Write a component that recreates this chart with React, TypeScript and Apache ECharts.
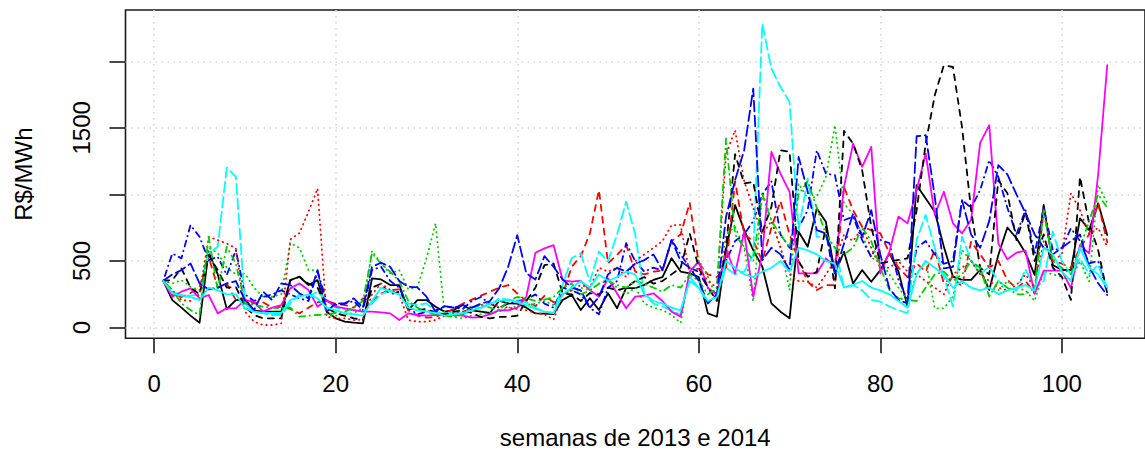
import React, { useEffect, useRef } from "react";
import * as echarts from "echarts";

// Weekly prices (R$/MWh), weeks 1..105 of 2013 and 2014
const xTicks = [0, 20, 40, 60, 80, 100];
const yTicks = [0, 500, 1000, 1500, 2000];
const yLabelValues = [0, 500, 1500];

const serie01 = [
  352, 207, 150, 90, 37, 570, 400, 140, 207, 212,
  130, 120, 120, 120, 357, 382, 320, 357, 120, 70,
  45, 37, 32, 370, 362, 320, 320, 132, 207, 207,
  157, 120, 132, 170, 130, 120, 110, 202, 182, 180,
  150, 107, 105, 102, 208, 246, 133, 221, 133, 258,
  146, 296, 296, 321, 358, 380, 521, 421, 407, 380,
  107, 82, 582, 920, 732, 582, 457, 182, 120, 70,
  720, 607, 895, 795, 407, 570, 332, 432, 345, 432,
  558, 420, 158, 1070, 970, 870, 608, 383, 358, 358,
  433, 283, 546, 752, 671, 560, 396, 921, 471, 433,
  433, 821, 733, 934, 696,
];
const serie02 = [
  352, 245, 230, 260, 300, 532, 300, 330, 207, 207,
  182, 190, 150, 157, 140, 107, 150, 190, 200, 180,
  170, 150, 220, 200, 257, 282, 287, 130, 90, 75,
  80, 110, 140, 180, 210, 240, 270, 300, 320, 257,
  200, 160, 240, 190, 250, 457, 537, 707, 1032, 483,
  546, 620, 420, 400, 420, 430, 650, 700, 937, 482,
  400, 380, 450, 1100, 700, 650, 500, 750, 950, 700,
  500, 345, 282, 320, 320, 1057, 882, 757, 732, 708,
  560, 450, 380, 483, 420, 583, 333, 380, 308, 646,
  550, 450, 500, 358, 296, 350, 258, 884, 500, 480,
  450, 600, 700, 934, 640,
];
const serie03 = [
  352, 332, 357, 307, 282, 600, 560, 450, 400, 407,
  300, 230, 232, 250, 632, 600, 432, 432, 95, 90,
  100, 110, 150, 577, 482, 407, 432, 287, 307, 520,
  782, 95, 80, 70, 90, 100, 110, 120, 150, 160,
  170, 180, 200, 170, 250, 280, 300, 280, 330, 360,
  300, 250, 300, 182, 150, 132, 95, 35, 407, 507,
  382, 220, 700, 757, 600, 195, 1020, 807, 607, 282,
  1082, 970, 982, 1132, 1520, 932, 850, 700, 520, 507,
  400, 300, 207, 400, 500, 145, 145, 233, 583, 500,
  420, 300, 280, 350, 300, 280, 200, 420, 400, 380,
  360, 500, 346, 1071, 934,
];
const serie04 = [
  352, 557, 520, 770, 682, 507, 532, 395, 582, 250,
  200, 230, 250, 280, 250, 220, 200, 420, 200, 170,
  180, 200, 130, 432, 457, 350, 300, 150, 100, 120,
  130, 160, 150, 140, 200, 230, 180, 150, 180, 200,
  210, 250, 180, 150, 300, 280, 250, 150, 100, 300,
  350, 634, 500, 420, 450, 430, 657, 550, 450, 420,
  300, 250, 500, 650, 700, 800, 1000, 1100, 700, 600,
  750, 882, 1332, 1157, 1145, 807, 832, 657, 532, 659,
  634, 358, 208, 600, 650, 550, 480, 500, 959, 900,
  1032, 1257, 1132, 900, 700, 884, 550, 900, 583, 596,
  746, 650, 482, 500, 258,
];
const serie05 = [
  352, 270, 245, 240, 250, 557, 607, 1202, 1132, 182,
  120, 107, 95, 95, 182, 250, 230, 270, 200, 150,
  140, 130, 120, 180, 250, 280, 250, 180, 170, 182,
  120, 100, 120, 100, 130, 150, 170, 220, 210, 200,
  190, 150, 120, 110, 320, 521, 558, 346, 571, 496,
  700, 945, 700, 250, 180, 160, 130, 95, 382, 300,
  182, 250, 450, 400, 420, 550, 2282, 1945, 1807, 1695,
  732, 1120, 682, 682, 600, 307, 320, 280, 208, 195,
  158, 132, 108, 659, 846, 600, 382, 158, 683, 508,
  400, 458, 350, 300, 280, 438, 300, 350, 721, 500,
  400, 521, 400, 471, 300,
];
const serie06 = [
  352, 232, 270, 295, 220, 245, 107, 145, 145, 207,
  195, 120, 150, 170, 295, 332, 282, 157, 207, 157,
  145, 132, 120, 120, 115, 107, 57, 107, 95, 90,
  95, 100, 95, 90, 75, 80, 100, 132, 130, 150,
  232, 562, 595, 620, 357, 345, 352, 282, 232, 371,
  257, 146, 233, 240, 258, 200, 120, 83, 421, 496,
  300, 245, 595, 407, 720, 232, 557, 1320, 1157, 1020,
  407, 407, 407, 520, 457, 1057, 1382, 1207, 1357, 407,
  570, 834, 783, 1032, 1307, 845, 1020, 783, 708, 809,
  1387, 1520, 633, 513, 563, 578, 253, 428, 428, 428,
  296, 621, 558, 1150, 1970,
];
const serie07 = [
  352, 357, 445, 300, 250, 545, 432, 300, 307, 157,
  95, 70, 70, 70, 357, 382, 330, 300, 150, 110,
  90, 70, 60, 300, 330, 250, 270, 150, 130, 140,
  110, 100, 120, 130, 110, 80, 70, 80, 82, 90,
  200, 300, 470, 482, 257, 250, 200, 260, 250, 300,
  280, 300, 350, 380, 330, 350, 400, 450, 707, 450,
  300, 200, 600, 1302, 1082, 1095, 720, 907, 1332, 1320,
  500, 382, 420, 757, 295, 1477, 1382, 1182, 757, 483,
  496, 508, 521, 882, 1382, 1745, 1970, 1957, 1507, 882,
  450, 400, 1107, 1009, 657, 870, 500, 700, 450, 382,
  208, 1132, 782, 582, 257,
];
const serie08 = [
  352, 280, 207, 200, 250, 682, 657, 632, 595, 120,
  45, 20, 20, 32, 662, 710, 870, 1045, 82, 70,
  70, 57, 60, 250, 332, 282, 250, 57, 45, 45,
  57, 90, 110, 120, 150, 170, 180, 160, 150, 140,
  130, 110, 100, 60, 250, 280, 320, 300, 450, 420,
  450, 380, 500, 550, 600, 650, 770, 771, 400, 450,
  350, 300, 1300, 1482, 1100, 900, 700, 800, 600, 400,
  350, 350, 300, 400, 500, 700, 650, 750, 600, 450,
  450, 500, 420, 400, 350, 300, 250, 400, 450, 500,
  400, 350, 300, 280, 320, 400, 300, 650, 500, 550,
  1009, 882, 700, 750, 608,
];
const serie09 = [
  352, 282, 182, 132, 95, 682, 282, 607, 482, 182,
  170, 157, 150, 145, 150, 82, 90, 95, 100, 110,
  120, 150, 200, 560, 480, 420, 350, 200, 150, 120,
  100, 90, 80, 100, 150, 170, 150, 130, 200, 230,
  220, 200, 210, 230, 300, 330, 250, 280, 330, 350,
  320, 300, 350, 330, 300, 270, 320, 300, 400, 350,
  250, 300, 1420, 700, 600, 500, 1000, 800, 700, 600,
  1000, 1100, 900, 700, 600, 550, 600, 750, 650, 450,
  283, 220, 208, 200, 300, 400, 420, 350, 400, 500,
  450, 233, 350, 300, 250, 250, 300, 880, 500, 450,
  400, 600, 800, 1000, 900,
];
const serie10 = [
  352, 400, 432, 482, 332, 287, 300, 332, 350, 207,
  132, 270, 207, 332, 320, 257, 220, 432, 120, 182,
  182, 220, 150, 457, 487, 457, 350, 307, 302, 232,
  120, 162, 150, 170, 150, 180, 200, 295, 457, 695,
  407, 362, 537, 457, 362, 300, 280, 150, 230, 400,
  450, 420, 480, 507, 550, 432, 658, 500, 450, 350,
  182, 250, 832, 1107, 1332, 1795, 507, 600, 550, 432,
  1282, 1020, 732, 707, 407, 632, 857, 682, 882, 550,
  295, 207, 183, 1437, 1445, 982, 445, 457, 957, 700,
  600, 800, 1220, 1150, 1000, 859, 700, 600, 550, 600,
  650, 700, 458, 333, 245,
];
const serie11 = [
  352, 257, 240, 230, 207, 300, 280, 250, 250, 145,
  120, 110, 110, 110, 207, 232, 250, 220, 150, 130,
  110, 100, 90, 200, 300, 270, 250, 150, 130, 120,
  110, 90, 100, 110, 130, 150, 180, 200, 210, 190,
  170, 140, 120, 110, 250, 300, 350, 300, 400, 350,
  380, 420, 400, 250, 200, 180, 150, 130, 350, 300,
  200, 230, 500, 450, 400, 380, 420, 450, 500, 420,
  600, 580, 550, 500, 480, 300, 320, 350, 300, 280,
  250, 200, 150, 400, 500, 450, 400, 300, 350, 300,
  280, 300, 250, 280, 300, 320, 280, 600, 550, 420,
  350, 600, 450, 400, 300,
];

const weeks = serie01.map((_, i) => i + 1);

// line types in the order solid, dashed, dotted, dotdash, longdash
const LW = 1.8;
const DASHED = [6, 6];
const DOTTED = [0.5, 4.5];
const DOTDASH = [0.5, 4.5, 6, 4.5];
const LONGDASH = [10.5, 4.5];

const seriesDefs = [
  { name: "serie01", values: serie01, color: "#000000", type: "solid" as any },
  { name: "serie02", values: serie02, color: "#FF0000", type: DASHED },
  { name: "serie03", values: serie03, color: "#00CD00", type: DOTTED },
  { name: "serie04", values: serie04, color: "#0000FF", type: DOTDASH },
  { name: "serie05", values: serie05, color: "#00FFFF", type: LONGDASH },
  { name: "serie06", values: serie06, color: "#FF00FF", type: "solid" as any },
  { name: "serie07", values: serie07, color: "#000000", type: DASHED },
  { name: "serie08", values: serie08, color: "#FF0000", type: DOTTED },
  { name: "serie09", values: serie09, color: "#00CD00", type: DOTDASH },
  { name: "serie10", values: serie10, color: "#0000FF", type: LONGDASH },
  { name: "serie11", values: serie11, color: "#00FFFF", type: "solid" as any },
];

const FONT = "'Liberation Sans', Arial, Helvetica, sans-serif";

export default function App() {
  const ref = useRef<HTMLDivElement>(null);

  useEffect(() => {
    if (!ref.current) return;
    const chart = echarts.init(ref.current, undefined, { renderer: "svg" });
    const gridLine = { show: true, lineStyle: { color: "#d3d3d3", width: 1.5, type: [1.5, 4.5] as any } };
    chart.setOption({
      animation: false,
      backgroundColor: "#ffffff",
      grid: {
        left: 125.5,
        top: 10,
        width: 1022.9,
        height: 328.3,
        show: true,
        borderColor: "#1a1a1a",
        borderWidth: 1.6,
        backgroundColor: "transparent",
      },
      xAxis: {
        type: "value",
        min: -3.16,
        max: 109.16,
        axisLine: { show: false, onZero: false },
        axisTick: {
          show: true,
          customValues: xTicks,
          length: 15,
          lineStyle: { color: "#1a1a1a", width: 1.6 },
        },
        axisLabel: {
          customValues: xTicks,
          margin: 33,
          fontSize: 24,
          color: "#000",
          fontFamily: FONT,
          formatter: (v: number) => String(v),
        },
        splitLine: gridLine,
        name: "semanas de 2013 e 2014",
        nameLocation: "middle",
        nameGap: 87,
        nameTextStyle: { fontSize: 24, color: "#000", fontFamily: FONT },
      },
      yAxis: {
        type: "value",
        min: -80,
        max: 2385,
        axisLine: { show: false, onZero: false },
        axisTick: {
          show: true,
          customValues: yTicks,
          length: 16,
          lineStyle: { color: "#1a1a1a", width: 1.6 },
        },
        axisLabel: {
          customValues: yLabelValues,
          rotate: 90,
          margin: 32,
          fontSize: 24,
          color: "#000",
          fontFamily: FONT,
          formatter: (v: number) => String(v),
        },
        splitLine: gridLine,
        name: "R$/MWh",
        nameLocation: "middle",
        nameGap: 90,
        nameRotate: 90,
        nameTextStyle: { fontSize: 24, color: "#000", fontFamily: FONT },
      },
      series: seriesDefs.map((s) => ({
        name: s.name,
        type: "line",
        data: s.values.map((v, i) => [weeks[i], v]),
        showSymbol: false,
        symbol: "none",
        clip: true,
        lineStyle: { color: s.color, width: LW, type: s.type, cap: "round", join: "round" },
        emphasis: { disabled: true },
      })),
    });
    return () => chart.dispose();
  }, []);

  return (
    <div
      ref={ref}
      style={{ position: "absolute", left: 0, top: 0, width: 1145, height: 458, background: "#fff" }}
    />
  );
}
